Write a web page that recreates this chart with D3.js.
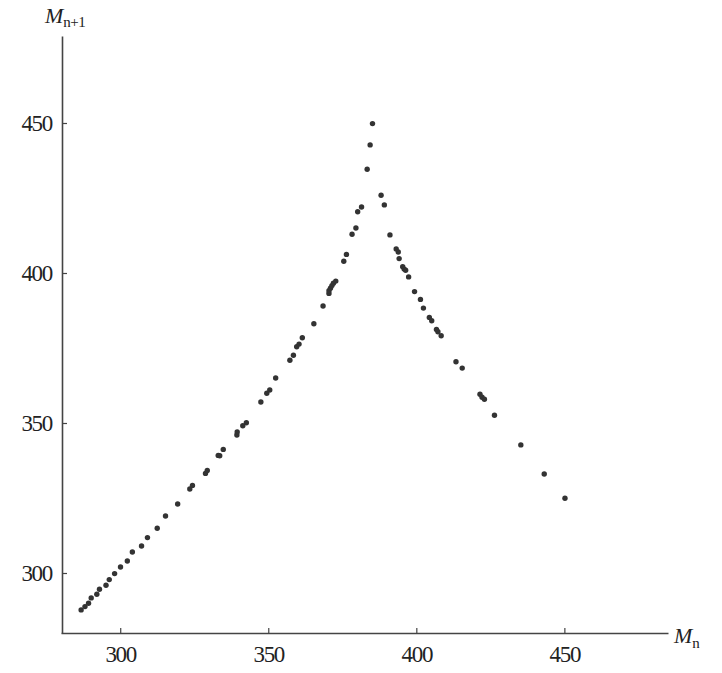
<!DOCTYPE html>
<html>
<head>
<meta charset="utf-8">
<script src="https://cdn.jsdelivr.net/npm/d3@7/dist/d3.min.js"></script>
<style>
  html, body { margin: 0; padding: 0; background: #fff; }
  svg text { font-family: "Liberation Serif", "Times New Roman", serif; fill: #222; }
</style>
</head>
<body>
<svg id="chart" width="722" height="673"></svg>
<script>
// Return map data: M_n vs M_{n+1}
const mn = [
  286.8, 288.1, 289.3, 290.2, 292.1, 293.0, 295.2, 296.3, 298.1, 300.1,
  302.4, 304.1, 307.2, 309.2, 312.5, 315.3, 319.4, 323.5, 324.4, 328.8,
  329.4, 333.1, 333.6, 334.8, 339.4, 339.5, 341.4, 342.6, 347.5, 349.5,
  350.5, 352.5, 357.3, 358.5, 359.6, 360.4, 361.5, 365.4, 368.5, 370.5,
  370.5, 371.0, 371.5, 372.0, 372.8, 375.5, 376.4, 378.3, 379.6, 380.2,
  381.5, 383.4, 384.4, 385.2,
  388.1, 389.2, 391.1, 393.2, 393.9, 394.2, 395.4, 395.9, 396.4, 397.4,
  399.4, 401.4, 402.4, 404.4, 405.2, 406.8, 407.3, 408.4, 413.4, 415.5,
  421.5, 422.2, 423.0, 426.4, 435.3, 443.2, 450.2
];
const mn1 = [
  287.7, 288.8, 289.9, 291.7, 292.9, 294.6, 295.9, 297.8, 299.8, 302.0,
  304.0, 307.0, 309.0, 311.8, 314.9, 319.0, 323.0, 328.0, 329.2, 333.2,
  334.2, 339.2, 339.1, 341.2, 346.0, 347.0, 349.1, 350.1, 357.0, 359.9,
  361.0, 365.0, 370.9, 372.6, 375.4, 376.3, 378.4, 383.1, 389.0, 393.2,
  394.1, 394.9, 395.8, 396.6, 397.3, 403.9, 406.2, 412.9, 415.0, 420.4,
  422.0, 434.6, 442.7, 449.8,
  425.9, 422.7, 412.7, 408.0, 407.0, 404.8, 402.1, 401.3, 400.9, 398.7,
  393.8, 391.2, 388.3, 385.2, 384.1, 381.2, 380.4, 379.1, 370.4, 368.3,
  359.6, 358.6, 357.9, 352.6, 342.7, 333.0, 324.9
];
const xTicks = [300, 350, 400, 450];
const yTicks = [300, 350, 400, 450];
const xDomain = [280, 485];
const yDomain = [280, 479];

const svg = d3.select("#chart");
const x = d3.scaleLinear().domain(xDomain).range([61, 668]);
const y = d3.scaleLinear().domain(yDomain).range([633, 36]);

const axisColor = "#444";

const gx = svg.append("g")
  .attr("transform", `translate(0,${y(yDomain[0])})`)
  .call(d3.axisBottom(x).tickValues(xTicks).tickFormat(d3.format("d"))
        .tickSizeInner(-5).tickSizeOuter(0).tickPadding(13));
const gy = svg.append("g")
  .attr("transform", `translate(${x(xDomain[0]) + 1},0)`)
  .call(d3.axisLeft(y).tickValues(yTicks).tickFormat(d3.format("d"))
        .tickSizeInner(-5).tickSizeOuter(0).tickPadding(10));

[gx, gy].forEach(g => {
  g.select(".domain").attr("stroke", axisColor).attr("stroke-width", 1.6);
  g.selectAll(".tick line").attr("stroke", axisColor).attr("stroke-width", 1.2);
  g.selectAll(".tick text").attr("font-size", 23).attr("fill", "#222")
    .style("letter-spacing", "-1.3px")
    .style("font-family", '"Liberation Serif", "Times New Roman", serif');
  g.attr("font-family", null).attr("font-size", null);
});

// Axis labels
const yl = svg.append("text").attr("x", 45).attr("y", 23).attr("font-size", 22);
yl.append("tspan").attr("font-style", "italic").text("M");
yl.append("tspan").attr("font-size", 15).attr("dy", 4).style("letter-spacing", "-0.5px").text("n+1");

const xl = svg.append("text").attr("x", 674).attr("y", 643).attr("font-size", 22);
xl.append("tspan").attr("font-style", "italic").text("M");
xl.append("tspan").attr("font-size", 15).attr("dy", 5).text("n");

// Points
svg.append("g").selectAll("circle")
  .data(mn.map((d, i) => [d, mn1[i]]))
  .join("circle")
  .attr("cx", d => x(d[0]))
  .attr("cy", d => y(d[1]))
  .attr("r", 2.7)
  .attr("fill", "#333");
</script>
</body>
</html>
